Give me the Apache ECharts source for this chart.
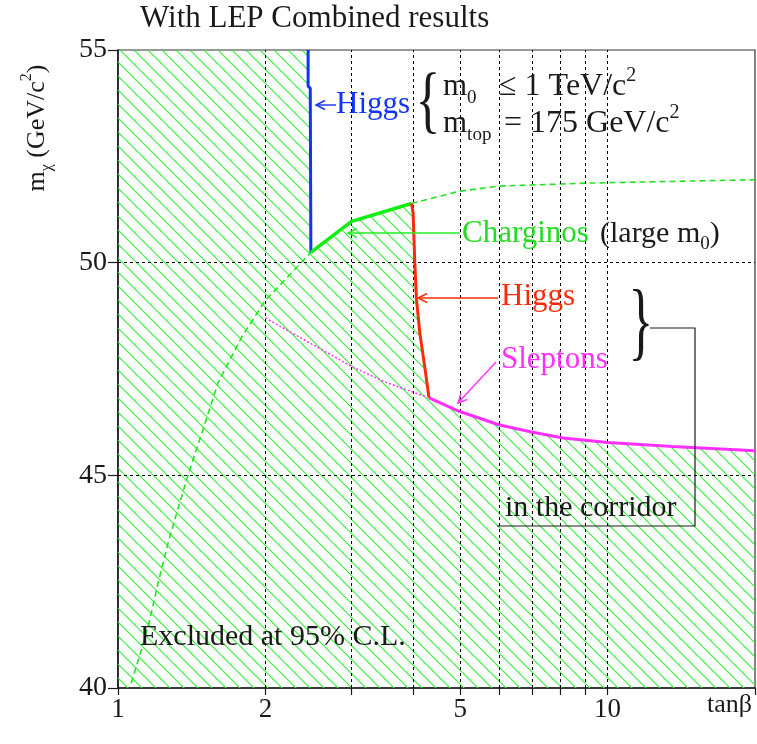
<!DOCTYPE html>
<html>
<head>
<meta charset="utf-8">
<script src="https://cdn.jsdelivr.net/npm/echarts@6/dist/echarts.min.js"></script>
<style>
  html, body { margin: 0; padding: 0; background: #ffffff; }
  #chart { width: 757px; height: 744px; }
</style>
</head>
<body>
<div id="chart"></div>
<script>
// Log-axis tick positions (tanβ)
const xTickValues = [1, 2, 3, 4, 5, 6, 7, 8, 9, 10, 20];
const xLabelValues = [1, 2, 5, 10];
const xGridValues = [2, 3, 4, 5, 6, 7, 8, 9, 10];
const yGridValues = [45, 50];

// Limit curves, each point is [tanβ, m_χ (GeV/c²)]
const higgsLowTanb = [[2.445, 55], [2.445, 54.15], [2.47, 54.1], [2.477, 50.24]];
const charginoLimit = [[2.477, 50.24], [3.0, 50.97], [3.976, 51.39]];
const higgsHighTanb = [[3.976, 51.39], [4.006, 51.18], [4.038, 50.0], [4.071, 49.13],
                       [4.134, 48.35], [4.232, 47.55], [4.318, 46.82]];
const sleptonLimit = [[4.318, 46.82], [4.99, 46.50], [5.99, 46.19], [6.99, 46.02],
                      [8.11, 45.88], [10, 45.77], [13.57, 45.68], [20, 45.58]];

// Chargino and slepton limits where another channel dominates
const charginoLowTanb = [[1.064, 40.11], [1.116, 40.89], [1.161, 41.60], [1.207, 42.46],
                         [1.265, 43.40], [1.336, 44.35], [1.401, 45.13], [1.491, 46.07],
                         [1.600, 47.17], [1.785, 48.23], [1.993, 49.09], [2.477, 50.24]];
const charginoHighTanb = [[3.976, 51.39], [4.98, 51.68], [6.0, 51.80], [9.05, 51.87], [20, 51.95]];
const sleptonLowTanb = [[2.0, 48.70], [3.0, 47.56], [3.5, 47.2], [4.25, 46.85]];

// Outline of the excluded region: top-left corner then the combined limit
const excludedRegion = [[1, 55]].concat(
  higgsLowTanb,
  charginoLimit.slice(1),
  higgsHighTanb.slice(1),
  sleptonLimit.slice(1)
);

const SERIF = '"Liberation Serif", "Times New Roman", serif';
const INK = '#1a1a1a';
const GREEN = '#1ee61e';
const BLUE = '#1233ff';
const RED = '#ff2a0a';
const MAGENTA = '#ff30ff';

// Diagonal hatch tile used to fill the excluded region
function hatchTile() {
  const s = 14;
  const c = document.createElement('canvas');
  c.width = s; c.height = s;
  const g = c.getContext('2d');
  g.strokeStyle = '#33ee33';
  g.lineWidth = 1.1;
  g.beginPath();
  for (let k = -1; k <= 1; k++) {
    g.moveTo(k * s - s, -s);
    g.lineTo(k * s + 2 * s, 2 * s);
  }
  g.stroke();
  return c;
}

function curve(data, color, width, type, z) {
  return {
    type: 'line', data: data, symbol: 'none', silent: true, z: z || 5,
    lineStyle: { color: color, width: width, type: type || 'solid' },
    animation: false
  };
}

// Arrow drawn as a shaft plus an open head at (x2, y2)
function arrow(x1, y1, x2, y2, color) {
  const dx = x2 - x1, dy = y2 - y1, len = Math.hypot(dx, dy);
  const ux = dx / len, uy = dy / len, px = -uy, py = ux;
  const hl = 9, hw = 4.5;
  return [
    { type: 'line', shape: { x1: x1, y1: y1, x2: x2, y2: y2 },
      style: { stroke: color, lineWidth: 1.4 }, z: 20 },
    { type: 'polyline', shape: { points: [
        [x2 - ux * hl + px * hw, y2 - uy * hl + py * hw], [x2, y2],
        [x2 - ux * hl - px * hw, y2 - uy * hl - py * hw]] },
      style: { stroke: color, lineWidth: 1.4, fill: null }, z: 20 }
  ];
}

function label(x, y, text, color, size, extra) {
  return Object.assign({
    type: 'text', x: x, y: y, z: 20,
    style: Object.assign({
      text: text, fill: color, font: size + 'px ' + SERIF,
      align: 'left', verticalAlign: 'middle',
      textAlign: 'left', textVerticalAlign: 'middle'
    }, (extra && extra.style) || {})
  }, extra ? { rotation: extra.rotation || 0, scaleX: extra.scaleX || 1, scaleY: extra.scaleY || 1 } : {});
}

function richText(size, color) {
  return {
    a: { fontSize: size, fontFamily: SERIF, fill: color, lineHeight: size + 10 },
    s: { fontSize: Math.round(size * 0.62), fontFamily: SERIF, fill: color, lineHeight: 14, verticalAlign: 'bottom' },
    p: { fontSize: Math.round(size * 0.62), fontFamily: SERIF, fill: color, lineHeight: 16, verticalAlign: 'top' }
  };
}

function richLabel(x, y, text, color, size) {
  return { type: 'text', x: x, y: y, z: 20,
    style: { text: text, rich: richText(size, color), align: 'left', textAlign: 'left',
             verticalAlign: 'middle', textVerticalAlign: 'middle' } };
}

const chart = echarts.init(document.getElementById('chart'), null, { renderer: 'canvas' });

const graphics = [
  label(140, 19, 'With LEP Combined results', INK, 31),
  // y-axis title
  {
    type: 'text', x: 37, y: 128, rotation: Math.PI / 2, z: 20,
    style: {
      text: '{a|m}{s|χ}{a| (GeV/c}{p|2}{a|)}', rich: richText(26, INK),
      align: 'center', verticalAlign: 'middle', textAlign: 'center', textVerticalAlign: 'middle'
    }
  },
  label(752, 705, 'tanβ', INK, 26, { style: { align: 'right', textAlign: 'right' } }),
  // Higgs (low tanβ)
  label(336, 105, 'Higgs', BLUE, 31),
  // parameter box
  label(428, 105, '{', INK, 74, { scaleX: 0.7, style: { align: 'center', textAlign: 'center' } }),
  richLabel(443, 87, '{a|m}{s|0}', INK, 31),
  richLabel(499, 87, '{a|≤ 1 TeV/c}{p|2}', INK, 32),
  richLabel(443, 124, '{a|m}{s|top}', INK, 31),
  richLabel(504, 124, '{a|= 175 GeV/c}{p|2}', INK, 32),
  // Charginos
  label(462, 234, 'Charginos', '#22dd22', 31),
  richLabel(600, 234, '{a|(large m}{s|0}{a|)}', INK, 30),
  // Higgs (high tanβ)
  label(501, 297, 'Higgs', RED, 31),
  // Sleptons
  label(501, 360, 'Sleptons', MAGENTA, 31),
  // corridor bracket
  label(641, 326, '}', INK, 86, { scaleX: 0.6, style: { align: 'center', textAlign: 'center' } }),
  { type: 'polyline', z: 20, shape: { points: [[650, 328], [695, 328], [695, 526], [497, 526]] },
    style: { stroke: INK, lineWidth: 1.2, fill: null } },
  label(505, 508, 'in the corridor', INK, 30),
  label(140, 637, 'Excluded at 95% C.L.', INK, 30)
].concat(
  arrow(336, 105, 316, 105, BLUE),
  arrow(460, 233, 348, 233, '#22ee22'),
  arrow(498, 298, 418, 298, RED),
  arrow(496, 362, 458, 403, MAGENTA)
);

chart.setOption({
  animation: false,
  backgroundColor: '#ffffff',
  grid: { left: 118, right: 2, top: 50, bottom: 56, show: true,
          borderColor: '#333333', borderWidth: 1.2, backgroundColor: 'transparent' },
  xAxis: {
    type: 'log', logBase: 10, min: 1, max: 20,
    axisLine: { show: true, lineStyle: { color: INK, width: 1.6 } },
    axisTick: { show: true, customValues: xTickValues, length: 7, inside: false,
                lineStyle: { color: INK, width: 1.2 } },
    axisLabel: { customValues: xLabelValues, margin: 8, fontFamily: SERIF, fontSize: 27, color: INK },
    splitLine: { show: false }, minorTick: { show: false }, minorSplitLine: { show: false }
  },
  yAxis: {
    type: 'value', min: 40, max: 55, interval: 5,
    axisLine: { show: true, lineStyle: { color: INK, width: 1.6 } },
    axisTick: { show: true, length: 10, inside: false, lineStyle: { color: INK, width: 1.2 } },
    axisLabel: { margin: 11, fontFamily: SERIF, fontSize: 28, color: INK },
    splitLine: { show: false }
  },
  series: [
    {
      type: 'line', data: excludedRegion, symbol: 'none', silent: true, z: 1,
      lineStyle: { width: 0, opacity: 0 },
      areaStyle: { color: { image: hatchTile(), repeat: 'repeat' }, opacity: 1, origin: 'start' }
    },
    {
      type: 'line', data: [], symbol: 'none', silent: true, z: 2,
      markLine: {
        silent: true, symbol: 'none', label: { show: false },
        lineStyle: { color: '#000000', width: 1, type: [3, 3] },
        data: xGridValues.map(v => ({ xAxis: v })).concat(yGridValues.map(v => ({ yAxis: v })))
      }
    },
    curve(charginoLowTanb, GREEN, 1.6, [6, 4], 4),
    curve(charginoHighTanb, GREEN, 1.6, [6, 4], 4),
    curve(sleptonLowTanb, MAGENTA, 1.5, [2, 2], 4),
    curve(higgsLowTanb, BLUE, 3),
    curve(charginoLimit, '#11ee11', 3.5),
    curve(higgsHighTanb, RED, 3),
    curve(sleptonLimit, MAGENTA, 3)
  ],
  graphic: graphics
});
</script>
</body>
</html>
